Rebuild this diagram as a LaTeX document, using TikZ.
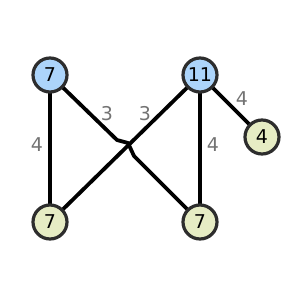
\documentclass[tikz,border=0pt]{standalone}
\usepackage{fontspec}
\setmainfont{DejaVu Sans}
\definecolor{nblue}{RGB}{172,212,250}
\definecolor{nolive}{RGB}{230,236,196}
\definecolor{nborder}{RGB}{45,45,45}
\begin{document}
\begin{tikzpicture}[x=1pt,y=-1pt,
  vtx/.style={circle,draw=nborder,line width=3.2pt,minimum size=34pt,inner sep=0pt,font=\fontsize{19}{21}\selectfont},
  blue/.style={vtx,fill=nblue},
  olive/.style={vtx,fill=nolive},
  edge/.style={line width=3.8pt,draw=black},
  lbl/.style={text=black!55,font=\fontsize{19}{21}\selectfont}]
\useasboundingbox (0,0) rectangle (300,300);
\coordinate (k1) at (117,140);
\coordinate (k2) at (128,143);
\coordinate (k3) at (134,156);
\draw[edge] (50,75) -- (50,222);
\draw[edge] (200,75) -- (50,222);
\draw[edge] (200,75) -- (200,222);
\draw[edge] (200,75) -- (262,137);
\draw[edge,line join=round] (50,75) -- (k1) -- (k2) -- (k3) -- (200,222);
\node[blue] (a) at (50,75) {7};
\node[blue] (b) at (200,75) {11};
\node[olive] (c) at (262,137) {4};
\node[olive] (d) at (50,222) {7};
\node[olive] (e) at (200,222) {7};
\node[lbl] (l1) at (37,145) {4};
\node[lbl] (l2) at (107,114) {3};
\node[lbl] (l3) at (145,114) {3};
\node[lbl] (l4) at (213,145) {4};
\node[lbl] (l5) at (242,99) {4};
\end{tikzpicture}
\end{document}
